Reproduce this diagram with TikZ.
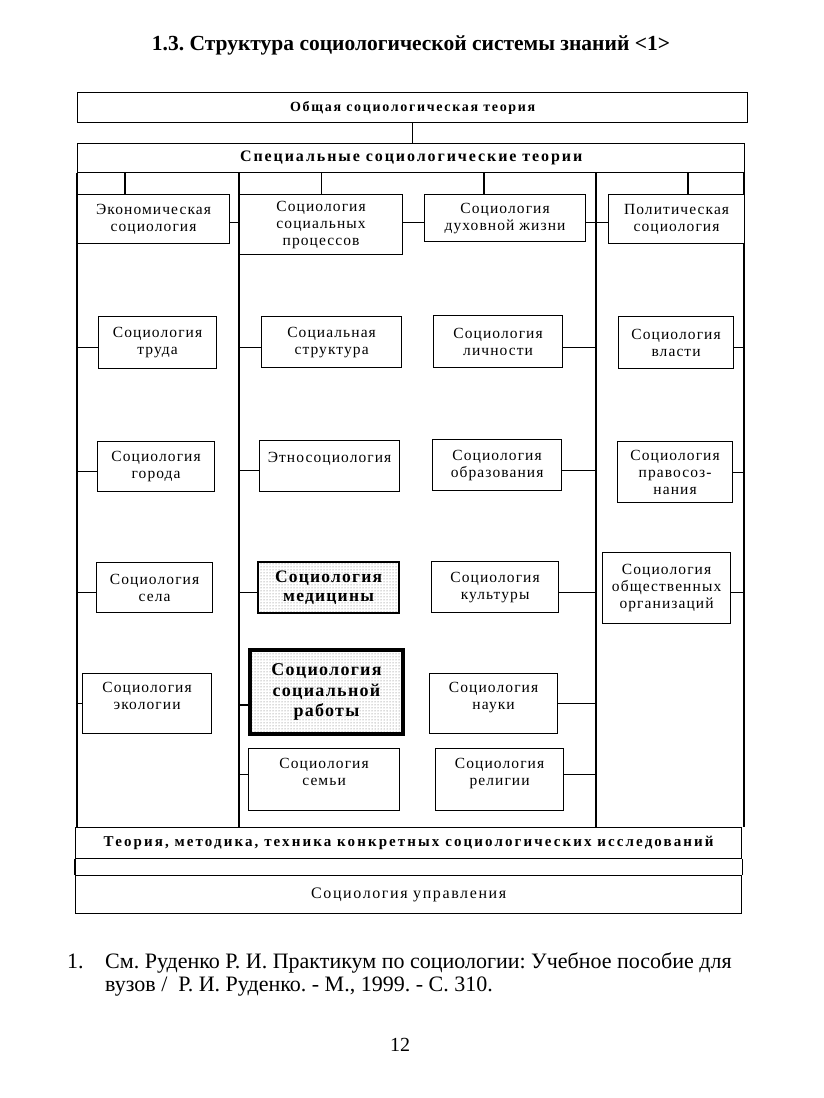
\documentclass[tikz,border=0pt]{standalone}
\usepackage{fontspec}
\setmainfont{Liberation Serif}
\newfontfamily\bxfont[LetterSpace=7]{Liberation Serif}
\newfontfamily\spfont[LetterSpace=12]{Liberation Serif}
\newfontfamily\wdfont[LetterSpace=14]{Liberation Serif}
\newfontfamily\upfont[LetterSpace=10]{Liberation Serif}
\usetikzlibrary{patterns}
\newcommand\hconn[4]{%
  \coordinate (#1-c) at ([yshift=#3]#1.#2);
  \draw[ln] (#1-c) -- (#1-c -| #4);}
\frenchspacing
\begin{document}
\begin{tikzpicture}[x=1pt,y=-1pt,
  ln/.style={line width=1.2pt},
  sbox/.style={draw, line width=1.2pt, inner sep=0pt, anchor=north west, align=center,
    fill=white, font=\bxfont\fontsize{15.5}{17}\selectfont},
  wide/.style={draw, line width=1.4pt, inner sep=0pt, anchor=north west, align=center, fill=white},
  hatched/.style={preaction={fill=white}, pattern=dots, pattern color=black!60},
  txt/.style={inner sep=0pt}]
\useasboundingbox (0,0) rectangle (823,1098);

% title
\node[txt] (title) at (411,45) {\bfseries\fontsize{21.5}{24}\selectfont 1.3. Структура социологической системы знаний <1>};

% coordinates of the frame and column lines
\coordinate (fl) at (77,0);
\coordinate (fr) at (744,0);
\coordinate (c2) at (239,0);
\coordinate (c3) at (596,0);
\coordinate (tA) at (125,0);
\coordinate (tD) at (484,0);
\coordinate (tP) at (688,0);

% top boxes
\node[wide, minimum width=670pt, minimum height=30pt, font=\spfont\bfseries\fontsize{14}{16}\selectfont] (gen) at (77,92) {Общая социологическая теория};
\node[wide, minimum width=667pt, minimum height=29pt, font=\spfont\bfseries\fontsize{16}{18}\selectfont] (spec) at (77,143) {Специальные социологические теории};
% bottom boxes
\node[wide, minimum width=666pt, minimum height=31pt, font=\wdfont\bfseries\fontsize{15}{17}\selectfont] (theory) at (75,827) {Теория, методика, техника конкретных социологических исследований};
\node[wide, minimum width=666pt, minimum height=38pt, font=\upfont\fontsize{16}{18}\selectfont] (upr) at (75,875) {Социология управления};

\draw[ln] (gen.south) -- (gen.south |- spec.north);
\draw[ln] (theory.south west) -- (upr.north west);
\draw[ln] (theory.south east) -- (upr.north east);

% frame and column lines
\draw[ln] (spec.south -| fl) -- (theory.north -| fl);
\draw[ln] (spec.south -| fr) -- (theory.north -| fr);
\draw[ln] (spec.south -| c2) -- (theory.north -| c2);
\draw[ln] (spec.south -| c3) -- (theory.north -| c3);

% first row
\node[sbox, minimum width=152pt, minimum height=49pt] (econ) at (77,194) {Экономическая\\социология};
\node[sbox, minimum width=163pt, minimum height=60pt] (proc) at (239,194) {Социология\\социальных\\процессов};
\node[sbox, minimum width=161pt, minimum height=47pt] (dukh) at (424,194) {Социология\\духовной жизни};
\node[sbox, minimum width=136pt, minimum height=49pt] (polit) at (608,194) {Политическая\\социология};

\draw[ln] (spec.south -| tA) -- (econ.north -| tA);
\draw[ln] (spec.south -| proc.north) -- (proc.north);
\draw[ln] (spec.south -| tD) -- (dukh.north -| tD);
\draw[ln] (spec.south -| tP) -- (polit.north -| tP);

\hconn{econ}{east}{-3.5pt}{proc.west}
\hconn{proc}{east}{2pt}{dukh.west}
\hconn{dukh}{east}{-4.5pt}{polit.west}

% column 1
\node[sbox, minimum width=118pt, minimum height=52pt] (trud) at (98,316) {Социология\\труда};
\node[sbox, minimum width=117pt, minimum height=50pt] (gor) at (97,441) {Социология\\города};
\node[sbox, minimum width=116pt, minimum height=50pt] (sela) at (96,562) {Социология\\села};
\node[sbox, minimum width=129pt, minimum height=60pt] (ekol) at (82,673) {Социология\\экологии\\[-1pt]\mbox{}};
\hconn{trud}{west}{-5pt}{fl}
\hconn{gor}{west}{-5pt}{fl}
\hconn{sela}{west}{-5pt}{fl}
\hconn{ekol}{west}{0pt}{fl}

% column 2
\node[sbox, minimum width=140pt, minimum height=51pt] (strukt) at (261,316) {Социальная\\структура};
\node[sbox, minimum width=140pt, minimum height=51pt] (etno) at (259,440) {Этносоциология\\\mbox{}};
\node[sbox, hatched, line width=2.2pt, minimum width=141pt, minimum height=51pt,
  font=\bxfont\bfseries\fontsize{17.5}{19}\selectfont] (med) at (257,561) {Социология\\медицины};
\node[sbox, hatched, line width=4pt, minimum width=153pt, minimum height=84pt,
  font=\bxfont\bfseries\fontsize{18}{20.5}\selectfont] (socrab) at (248,648) {Социология\\социальной\\работы};
\node[sbox, minimum width=151pt, minimum height=62pt] (semya) at (248,748) {Социология\\семьи\\[-1pt]\mbox{}};
\hconn{strukt}{west}{-5.5pt}{c2}
\hconn{etno}{west}{-4.5pt}{c2}
\hconn{med}{west}{-4.5pt}{c2}
\hconn{socrab}{west}{-13pt}{c2}
\hconn{semya}{west}{5pt}{c2}

% column 3
\node[sbox, minimum width=129pt, minimum height=52pt] (lichn) at (433,315) {Социология\\личности};
\node[sbox, minimum width=129pt, minimum height=51pt] (obraz) at (432,439) {Социология\\образования};
\node[sbox, minimum width=127pt, minimum height=51pt] (kult) at (431,561) {Социология\\культуры};
\node[sbox, minimum width=128pt, minimum height=60pt] (nauk) at (429,673) {Социология\\науки\\[-1pt]\mbox{}};
\node[sbox, minimum width=128pt, minimum height=62pt] (relig) at (435,748) {Социология\\религии\\[-1pt]\mbox{}};
\hconn{lichn}{east}{-6pt}{c3}
\hconn{obraz}{east}{-5.5pt}{c3}
\hconn{kult}{east}{-5.5pt}{c3}
\hconn{nauk}{east}{0pt}{c3}
\hconn{relig}{east}{5pt}{c3}

% column 4
\node[sbox, minimum width=115pt, minimum height=52pt] (vlast) at (618,316) {Социология\\власти};
\node[sbox, minimum width=115pt, minimum height=61pt] (pravo) at (617,441) {Социология\\правосоз-\\нания};
\node[sbox, minimum width=128pt, minimum height=71pt] (obshch) at (602,552) {Социология\\общественных\\организаций};
\hconn{vlast}{east}{-5pt}{fr}
\hconn{pravo}{east}{0pt}{fr}
\hconn{obshch}{east}{-4.5pt}{fr}

% footnote and page number
\node[txt, anchor=base west, font=\fontsize{22}{23}\selectfont] (fnum) at (67,968) {1.};
\node[txt, anchor=base west, font=\fontsize{22}{23}\selectfont] (fn1) at (105,968) {См. Руденко Р. И. Практикум по социологии: Учебное пособие для};
\node[txt, anchor=base west, font=\fontsize{22}{23}\selectfont] (fn2) at (105,991) {вузов /\ \ Р. И. Руденко. - М., 1999. - С. 310.};
\node[txt, font=\fontsize{20}{22}\selectfont] (pg) at (400,1045) {12};
\end{tikzpicture}
\end{document}
